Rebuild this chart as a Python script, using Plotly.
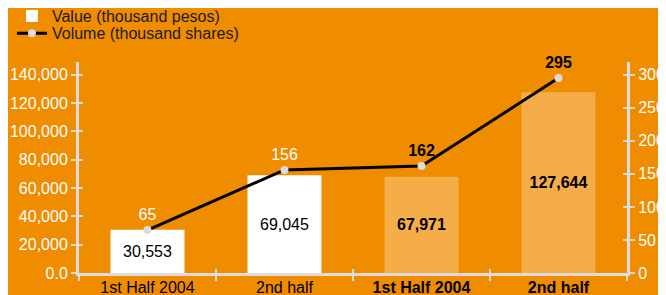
import plotly.graph_objects as go

categories = ["1st Half 2004", "2nd half", "1st Half 2004 ", "2nd half "]
tick_labels = ["1st Half 2004", "2nd half", "<b>1st Half 2004</b>", "<b>2nd half</b>"]
value_thousand_pesos = [30553, 69045, 67971, 127644]
volume_thousand_shares = [65, 156, 162, 295]
value_label_bold = [False, False, True, True]
volume_label_bold = [False, False, True, True]

left_tickvals = [0, 20000, 40000, 60000, 80000, 100000, 120000, 140000]
left_ticktext = ["0.0", "20,000", "40,000", "60,000", "80,000", "100,000", "120,000", "140,000"]
right_tickvals = [0, 50, 100, 150, 200, 250, 300]

BG = "#F08C00"
LIGHT_BAR = "#F5AD4A"
AXIS = "#DCDCDC"
FONT = "Arial, Liberation Sans, sans-serif"

bar_colors = ["#FFFFFF" if not b else LIGHT_BAR for b in value_label_bold]
bar_text = [("<b>{:,}</b>" if b else "{:,}").format(v) for v, b in zip(value_thousand_pesos, value_label_bold)]
line_text = [("<b>{}</b>" if b else "{}").format(v) for v, b in zip(volume_thousand_shares, volume_label_bold)]
line_text_colors = ["#000000" if b else "#FFFFFF" for b in volume_label_bold]

LMAX = 149000
RMAX = LMAX * 300 / 140000

fig = go.Figure()
fig.add_trace(go.Bar(
    x=categories, y=value_thousand_pesos, name="Value (thousand pesos)",
    marker=dict(color=bar_colors, line=dict(width=0)), width=0.54,
    text=bar_text, textposition="inside", insidetextanchor="middle",
    textfont=dict(color="#000000", size=16, family=FONT), textangle=0,
    xaxis="x", yaxis="y", legend="legend",
))
fig.add_trace(go.Scatter(
    x=categories, y=volume_thousand_shares, name="Volume (thousand shares)",
    mode="lines+markers+text", line=dict(color="#000000", width=3),
    marker=dict(color=AXIS, size=8),
    text=line_text, textposition="top center",
    textfont=dict(color=line_text_colors, size=16, family=FONT),
    cliponaxis=False, xaxis="x", yaxis="y2", legend="legend2",
))
# invisible helpers for inner tick halves
fig.add_trace(go.Scatter(x=categories, y=[None]*4, xaxis="x2", yaxis="y3",
                         showlegend=False, hoverinfo="skip", mode="markers"))
fig.add_trace(go.Scatter(x=categories, y=[None]*4, xaxis="x2", yaxis="y4",
                         showlegend=False, hoverinfo="skip", mode="markers"))

common_y = dict(showgrid=False, zeroline=False, showline=True, linecolor=AXIS, linewidth=3,
                ticks="outside", ticklen=5, tickwidth=2, tickcolor=AXIS, automargin=False,
                tickfont=dict(color="#FFFFFF", size=16, family=FONT))

legend_common = dict(xref="container", yref="container", x=0.006, xanchor="left",
                     yanchor="middle", bgcolor="rgba(0,0,0,0)",
                     font=dict(size=16, color="#1a1a1a", family=FONT), itemwidth=30)

fig.update_layout(
    width=658, height=287,
    paper_bgcolor=BG, plot_bgcolor=BG,
    margin=dict(l=71, r=39, t=54, b=22, autoexpand=False),
    font=dict(family=FONT, color="#000000"),
    uniformtext=dict(minsize=16, mode="show"),
    showlegend=True,
    legend=dict(y=0.972, **legend_common),
    legend2=dict(y=0.912, **legend_common),
    bargap=0.46,
    xaxis=dict(type="category", categoryorder="array", categoryarray=categories,
               tickvals=categories, ticktext=tick_labels, range=[-0.5, 3.5], tickangle=0,
               showgrid=False, zeroline=False, showline=True, linecolor=AXIS, linewidth=3,
               ticks="outside", tickson="boundaries", ticklen=5, tickwidth=2, tickcolor=AXIS,
               automargin=False, ticklabelstandoff=-2,
               tickfont=dict(color="#000000", size=16, family=FONT)),
    xaxis2=dict(type="category", categoryorder="array", categoryarray=categories,
                overlaying="x", range=[-0.5, 3.5], showgrid=False, zeroline=False,
                showline=False, ticks="inside", tickson="boundaries", ticklen=4, tickwidth=2,
                tickcolor=AXIS, showticklabels=False, anchor="y3", automargin=False),
    yaxis=dict(range=[0, LMAX], tickvals=left_tickvals, ticktext=left_ticktext, **common_y),
    yaxis2=dict(range=[0, RMAX], tickvals=right_tickvals, side="right", overlaying="y",
                anchor="x", **common_y),
    yaxis3=dict(range=[0, LMAX], tickvals=left_tickvals, overlaying="y", side="left",
                showgrid=False, zeroline=False, showline=False, ticks="inside", ticklen=4,
                tickwidth=2, tickcolor=AXIS, showticklabels=False, anchor="x2", automargin=False),
    yaxis4=dict(range=[0, RMAX], tickvals=right_tickvals, overlaying="y", side="right",
                showgrid=False, zeroline=False, showline=False, ticks="inside", ticklen=4,
                tickwidth=2, tickcolor=AXIS, showticklabels=False, anchor="x2", automargin=False),
)

fig.write_html("out.html")
